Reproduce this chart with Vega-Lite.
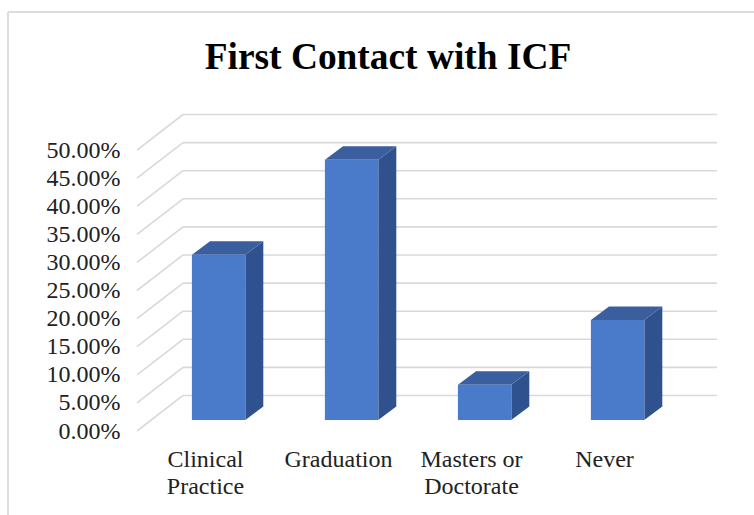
{
  "$schema": "https://vega.github.io/schema/vega-lite/v6.json",
  "width": 580,
  "height": 316,
  "autosize": "none",
  "padding": {"left": 137, "top": 115, "right": 37, "bottom": 84},
  "background": "white",
  "config": {"view": {"stroke": null}, "font": "Liberation Serif"},
  "title": {
    "text": "First Contact with ICF",
    "font": "Liberation Serif",
    "fontSize": 37.4,
    "fontWeight": "bold",
    "color": "#000000",
    "anchor": "middle",
    "frame": "group",
    "dx": -39,
    "offset": -65
  },
  "datasets": {
    "bars": [
      {"category": "Clinical Practice", "value": 0.294},
      {"category": "Graduation", "value": 0.463},
      {"category": "Masters or Doctorate", "value": 0.0625},
      {"category": "Never", "value": 0.178}
    ],
    "ticks": [
      {"v": 0}, {"v": 0.05}, {"v": 0.1}, {"v": 0.15}, {"v": 0.2}, {"v": 0.25},
      {"v": 0.3}, {"v": 0.35}, {"v": 0.4}, {"v": 0.45}, {"v": 0.5}
    ],
    "frame": [
      {"a": -0.97, "b": -0.97, "c": -0.15, "d": 0.7456},
      {"a": -0.97, "b": 4.64, "c": 0.7456, "d": 0.7456}
    ]
  },
  "resolve": {"scale": {"x": "independent"}, "axis": {"x": "independent"}},
  "encoding": {
    "y": {
      "type": "quantitative",
      "title": null,
      "scale": {"domain": [0, 0.5623], "nice": false, "zero": false},
      "axis": {
        "title": null,
        "values": [0, 0.05, 0.1, 0.15, 0.2, 0.25, 0.3, 0.35, 0.4, 0.45, 0.5],
        "format": ".2%",
        "domain": false,
        "ticks": false,
        "grid": false,
        "labelOverlap": false,
        "labelSeparation": 0,
        "labelBound": false,
        "labelPadding": 17,
        "labelFont": "Liberation Serif",
        "labelFontSize": 24,
        "labelColor": "#222222"
      }
    }
  },
  "layer": [
    {
      "data": {"name": "frame"},
      "mark": {"type": "rule", "color": "#DDDDDD", "strokeWidth": 2, "clip": false},
      "encoding": {
        "x": {"field": "a", "type": "quantitative", "axis": null, "scale": {"domain": [0, 4.3609], "nice": false, "zero": false}},
        "x2": {"field": "b"},
        "y": {"field": "c"},
        "y2": {"field": "d"}
      }
    },
    {
      "data": {"name": "ticks"},
      "transform": [
        {"calculate": "datum.v + 0.0632", "as": "back"},
        {"calculate": "0", "as": "x0"},
        {"calculate": "0.3459", "as": "x1"}
      ],
      "mark": {"type": "rule", "color": "#D9D9D9", "strokeWidth": 1.6},
      "encoding": {
        "x": {"field": "x0", "type": "quantitative", "axis": null, "scale": {"domain": [0, 4.3609], "nice": false, "zero": false}},
        "x2": {"field": "x1"},
        "y": {"field": "v"},
        "y2": {"field": "back"}
      }
    },
    {
      "data": {"name": "ticks"},
      "transform": [
        {"calculate": "datum.v + 0.0632", "as": "back"},
        {"calculate": "0.3459", "as": "x0"},
        {"calculate": "4.3609", "as": "x1"}
      ],
      "mark": {"type": "rule", "color": "#D9D9D9", "strokeWidth": 1.6},
      "encoding": {
        "x": {"field": "x0", "type": "quantitative", "axis": null, "scale": {"domain": [0, 4.3609], "nice": false, "zero": false}},
        "x2": {"field": "x1"},
        "y": {"field": "back"}
      }
    },
    {
      "data": {"name": "bars"},
      "transform": [
        {"window": [{"op": "row_number", "as": "n"}]},
        {"calculate": "[0, 1]", "as": "depth"},
        {"flatten": ["depth"]},
        {"calculate": "datum.n - 1 + 0.8143 + datum.depth * 0.1353", "as": "px"},
        {"calculate": "0.0196 + datum.depth * 0.024", "as": "low"},
        {"calculate": "datum.low + datum.value", "as": "high"}
      ],
      "mark": {"type": "area", "orient": "vertical", "color": "#2F528F", "opacity": 1},
      "encoding": {
        "x": {"field": "px", "type": "quantitative", "axis": null, "scale": {"domain": [0, 4.3609], "nice": false, "zero": false}},
        "y": {"field": "high"},
        "y2": {"field": "low"},
        "detail": {"field": "category"}
      }
    },
    {
      "data": {"name": "bars"},
      "transform": [
        {"window": [{"op": "row_number", "as": "n"}]},
        {"calculate": "[0, 1]", "as": "depth"},
        {"flatten": ["depth"]},
        {"calculate": "datum.n - 1 + 0.4135 + datum.depth * 0.1353", "as": "pl"},
        {"calculate": "datum.n - 1 + 0.8143 + datum.depth * 0.1353", "as": "pr"},
        {"calculate": "0.0196 + datum.depth * 0.024 + datum.value", "as": "high"}
      ],
      "mark": {"type": "area", "orient": "horizontal", "color": "#3A5E9E", "opacity": 1},
      "encoding": {
        "y": {"field": "high"},
        "x": {"field": "pl", "type": "quantitative", "axis": null, "scale": {"domain": [0, 4.3609], "nice": false, "zero": false}},
        "x2": {"field": "pr"},
        "detail": {"field": "category"}
      }
    },
    {
      "data": {"name": "bars"},
      "transform": [
        {"calculate": "0.0196", "as": "low"},
        {"calculate": "datum.low + datum.value", "as": "high"}
      ],
      "mark": {"type": "bar", "color": "#4A7BCB"},
      "encoding": {
        "x": {
          "field": "category",
          "type": "nominal",
          "sort": null,
          "title": null,
          "scale": {"range": [15, 547], "paddingInner": 0.6, "paddingOuter": 0.3},
          "axis": {
            "domain": false,
            "ticks": false,
            "grid": false,
            "labelAngle": 0,
            "labelOffset": -13,
            "labelPadding": 16,
            "labelFont": "Liberation Serif",
            "labelFontSize": 24,
            "labelColor": "#222222",
            "labelLimit": 0,
            "labelLineHeight": 27,
            "labelBaseline": "top",
            "labelExpr": "datum.label == 'Clinical Practice' ? ['Clinical', 'Practice'] : datum.label == 'Masters or Doctorate' ? ['Masters or', 'Doctorate'] : datum.label"
          }
        },
        "y": {"field": "high"},
        "y2": {"field": "low"}
      }
    }
  ]
}
